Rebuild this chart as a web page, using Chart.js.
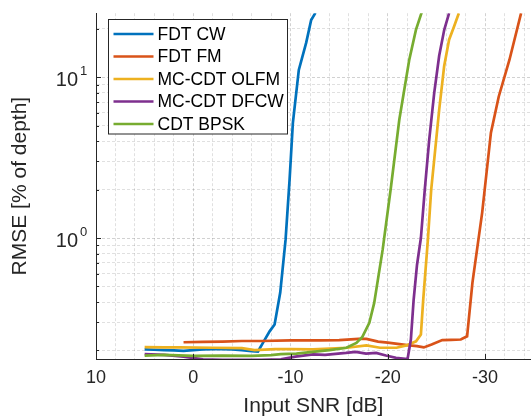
<!DOCTYPE html>
<html><head><meta charset="utf-8">
<script src="https://cdn.jsdelivr.net/npm/chart.js@4"></script>
<style>html,body{margin:0;padding:0;background:#fff;overflow:hidden}</style>
</head><body>
<canvas id="c" width="532" height="419"></canvas>
<script>
// ---- data ----
const seriesNames  = ['FDT CW', 'FDT FM', 'MC-CDT OLFM', 'MC-CDT DFCW', 'CDT BPSK'];
const seriesColors = ['#0072BD', '#D95319', '#EDB120', '#7E2F8E', '#77AC30'];

const cwSnr  = [5,4,3,2,1,0,-1,-2,-3,-4,-5,-6,-6.65,-7.16,-7.85,-8.36,-8.94,-9.49,-9.9,-10.24,-10.85,-11.61,-12.12,-12.56];
const cwRmse = [0.203,0.202,0.201,0.200,0.199,0.201,0.203,0.204,0.204,0.203,0.201,0.198,0.197,0.223,0.263,0.290,0.458,0.977,2.30,5.21,11.1,16.4,22.7,25.1];

const fmSnr  = [1,-1,-3,-5,-7,-10,-13,-15,-17,-17.8,-19,-20,-21,-22,-23,-23.7,-24.5,-25.6,-26.5,-27.5,-28.15,-28.7,-29.7,-30.6,-31.4,-32.5,-33.7];
const fmRmse = [0.225,0.226,0.227,0.229,0.229,0.231,0.231,0.232,0.236,0.236,0.227,0.224,0.220,0.216,0.213,0.209,0.218,0.232,0.233,0.234,0.245,0.528,1.44,4.52,7.56,12.8,25];

const olfmSnr  = [5,3,1.4,-2,-5,-6.3,-8.4,-10,-12.3,-15.8,-17.8,-19.2,-20.9,-21.9,-22.9,-23.4,-23.64,-24.12,-24.46,-24.77,-25.28,-25.79,-26.3,-26.8,-27.3];
const olfmRmse = [0.210,0.209,0.209,0.208,0.207,0.201,0.204,0.204,0.203,0.208,0.215,0.208,0.208,0.215,0.228,0.251,0.414,0.977,2.0,3.07,6.27,11.7,17.1,20.6,25];

const dfcwSnr  = [5,3,1,-1,-3,-5,-7,-9,-10.5,-12.3,-13.55,-15.7,-16.7,-17.76,-18.8,-19.8,-20.84,-22.03,-22.37,-22.65,-23.0,-23.4,-23.8,-24.26,-24.77,-25.28,-25.8,-26.3];
const dfcwRmse = [0.190,0.188,0.183,0.176,0.175,0.175,0.175,0.176,0.183,0.189,0.188,0.193,0.196,0.191,0.193,0.186,0.180,0.177,0.234,0.41,0.68,1.0,2.0,4.1,8.0,13.6,19.7,25];

const bpskSnr  = [5,3,0,-3,-6,-8,-9,-10.6,-12.26,-14,-15.74,-16.77,-17.38,-18.1,-18.6,-19.47,-20.33,-21.18,-22.2,-22.89,-23.5];
const bpskRmse = [0.186,0.188,0.185,0.186,0.185,0.187,0.190,0.191,0.196,0.201,0.208,0.223,0.243,0.297,0.395,0.847,2.09,5.44,12.8,19.7,25.5];

const xLabelValues = [10, 0, -10, -20, -30];
const xLabelTexts  = ['10', '0', '-10', '-20', '-30'];
const yMajorValues = [1, 10];
const yMajorBase   = ['10', '10'];
const yMajorExp    = ['0', '1'];
const xTitle = 'Input SNR [dB]';
const yTitle = 'RMSE [% of depth]';

// ---- build ----
const snrLists  = [cwSnr, fmSnr, olfmSnr, dfcwSnr, bpskSnr];
const rmseLists = [cwRmse, fmRmse, olfmRmse, dfcwRmse, bpskRmse];
const FONT = "'Liberation Sans', Arial, Helvetica, sans-serif";
const AX = '#262626';
const LW = 2.7;

const datasets = seriesNames.map((name, i) => ({
  label: name,
  data: snrLists[i].map((s, k) => ({x: s, y: rmseLists[i][k]})),
  borderColor: seriesColors[i],
  backgroundColor: seriesColors[i],
  borderWidth: LW,
  pointRadius: 0,
  tension: 0,
  fill: false,
  order: seriesNames.length - i,
  clip: 0
}));

function xGridTicks() {
  const t = [];
  for (let v = 10; v >= -34; v -= 2) t.push({value: v});
  return t;
}
function yGridTicks() {
  const t = [];
  [0.1, 1, 10].forEach(d => { for (let m = 1; m <= 9; m++) { const v = +(m * d).toPrecision(3); if (v >= 0.18 && v <= 25) t.push({value: v}); } });
  return t;
}

const decorPlugin = {
  id: 'decor',
  afterDraw(chart) {
    const ctx = chart.ctx, ys = chart.scales.y, xs = chart.scales.x, a = chart.chartArea;
    ctx.save();
    // inward tick marks
    ctx.strokeStyle = AX; ctx.lineWidth = 1;
    ys.ticks.forEach(t => {
      const py = Math.round(ys.getPixelForValue(t.value)) + 0.5;
      const len = yMajorValues.includes(t.value) ? 5 : 3;
      ctx.beginPath(); ctx.moveTo(a.left, py); ctx.lineTo(a.left + len, py); ctx.stroke();
    });
    xLabelValues.forEach(v => {
      const px = Math.round(xs.getPixelForValue(v)) + 0.5;
      ctx.beginPath(); ctx.moveTo(px, a.bottom); ctx.lineTo(px, a.bottom - 5); ctx.stroke();
    });
    // y major labels with exponents
    ctx.fillStyle = AX;
    yMajorValues.forEach((v, i) => {
      const py = ys.getPixelForValue(v);
      ctx.font = '20px ' + FONT; ctx.textAlign = 'right'; ctx.textBaseline = 'middle';
      ctx.fillText(yMajorBase[i], a.left - 18, py + 3);
      ctx.font = '13px ' + FONT; ctx.textAlign = 'left';
      ctx.fillText(yMajorExp[i], a.left - 16, py - 6);
    });
    // legend
    const L = 108.5, T = 19.5, R = 287.5, B = 134;
    ctx.fillStyle = '#fff'; ctx.fillRect(L, T, R - L, B - T);
    ctx.strokeStyle = AX; ctx.lineWidth = 1; ctx.strokeRect(L, T, R - L, B - T);
    chart.data.datasets.forEach((ds, i) => {
      const y = 34 + i * 22.5;
      ctx.strokeStyle = ds.borderColor; ctx.lineWidth = LW;
      ctx.beginPath(); ctx.moveTo(113.5, y); ctx.lineTo(153.5, y); ctx.stroke();
      ctx.fillStyle = '#000'; ctx.font = '17.5px ' + FONT;
      ctx.textAlign = 'left'; ctx.textBaseline = 'middle';
      ctx.fillText(ds.label, 157.5, y + 1);
    });
    ctx.restore();
  }
};

new Chart(document.getElementById('c'), {
  type: 'line',
  data: {datasets},
  plugins: [decorPlugin],
  options: {
    responsive: false,
    devicePixelRatio: 1,
    animation: false,
    events: [],
    layout: {padding: {left: 0, right: 0, top: 12, bottom: 0}},
    plugins: {legend: {display: false}, tooltip: {enabled: false}},
    scales: {
      x: {
        type: 'linear', reverse: true, min: -34.7, max: 10,
        afterBuildTicks: s => { s.ticks = xGridTicks(); },
        afterFit: s => { s.height = 60; },
        ticks: {
          autoSkip: false, maxRotation: 0, padding: 8,
          color: AX, font: {family: FONT, size: 18},
          callback: v => { const i = xLabelValues.indexOf(v); return i >= 0 ? xLabelTexts[i] : ''; }
        },
        grid: {
          drawTicks: false,
          color: c => (c.tick && c.tick.value % 10 === 0) ? 'rgba(0,0,0,0.18)' : 'rgba(0,0,0,0.12)',
          lineWidth: 1
        },
        border: {display: true, color: AX, width: 1, dash: [3, 2]},
        title: {display: true, text: xTitle, color: AX, font: {family: FONT, size: 21}, padding: {top: 0, bottom: 0}}
      },
      y: {
        type: 'logarithmic', min: 0.177, max: 25,
        afterBuildTicks: s => { s.ticks = yGridTicks(); },
        afterFit: s => { s.width = 96; },
        ticks: {autoSkip: false, callback: () => '', font: {family: FONT, size: 17}},
        grid: {
          drawTicks: false,
          color: c => (c.tick && yMajorValues.includes(c.tick.value)) ? 'rgba(0,0,0,0.18)' : 'rgba(0,0,0,0.12)',
          lineWidth: 1
        },
        border: {display: true, color: AX, width: 1, dash: [3, 2]},
        title: {display: true, text: yTitle, color: AX, font: {family: FONT, size: 21}, padding: {top: 8, bottom: 0}}
      }
    }
  }
});
</script>
</body></html>
